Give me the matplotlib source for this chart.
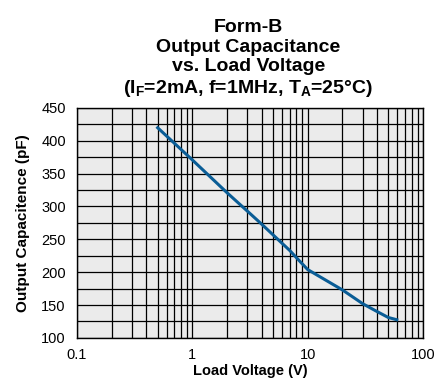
import numpy as np
import matplotlib.pyplot as plt
from matplotlib.ticker import FixedLocator, NullFormatter

plt.rcParams['font.family'] = ['Liberation Sans', 'DejaVu Sans']
plt.rcParams['mathtext.fontset'] = 'custom'
plt.rcParams['mathtext.rm'] = 'Liberation Sans'
plt.rcParams['mathtext.bf'] = 'Liberation Sans:bold'

volt = [0.49, 1, 2, 3, 4, 5, 7, 8, 10, 20, 30, 40, 50, 61]
cap = [421.5, 371, 321, 293, 273, 257, 233, 222, 204, 173, 152, 140, 131, 127]
xticks = [0.1, 1, 10, 100]
yticks = [100, 150, 200, 250, 300, 350, 400, 450]

fig = plt.figure(figsize=(4.37, 3.87), dpi=100)
ax = fig.add_axes([0.176, 0.127, 0.792, 0.594])
ax.set_facecolor('#ebebeb')

ax.plot(volt, cap, color='#0a5d96', lw=2.2, solid_capstyle='butt')

ax.set_xscale('log')
ax.set_xlim(0.1, 100)
ax.set_ylim(100, 450)
ax.set_xticks(xticks)
ax.set_xticklabels(['0.1', '1', '10', '100'])
ax.set_yticks(yticks)
ax.yaxis.set_minor_locator(FixedLocator(np.arange(125, 450, 50)))
ax.xaxis.set_minor_formatter(NullFormatter())
ax.grid(True, which='both', color='black', lw=0.9)
ax.tick_params(which='both', length=0, labelsize=10.5)
ax.tick_params(axis='y', pad=8)
ax.tick_params(axis='x', pad=7)
for s in ax.spines.values():
    s.set_linewidth(1.0)

ax.set_xlabel('Load Voltage (V)', fontsize=10.5, fontweight='bold', labelpad=2)
ax.set_ylabel('Output Capacitence (pF)', fontsize=11, fontweight='bold', labelpad=8)

title = ('Form-B\nOutput Capacitance\nvs. Load Voltage\n'
         r'($\mathbf{I_F}$=2mA, f=1MHz, $\mathbf{T_A}$=25°C)')
fig.text(0.568, 0.745, title, ha='center', va='bottom', fontsize=14,
         fontweight='bold', linespacing=1.18)

fig.savefig('out.png', dpi=100)
